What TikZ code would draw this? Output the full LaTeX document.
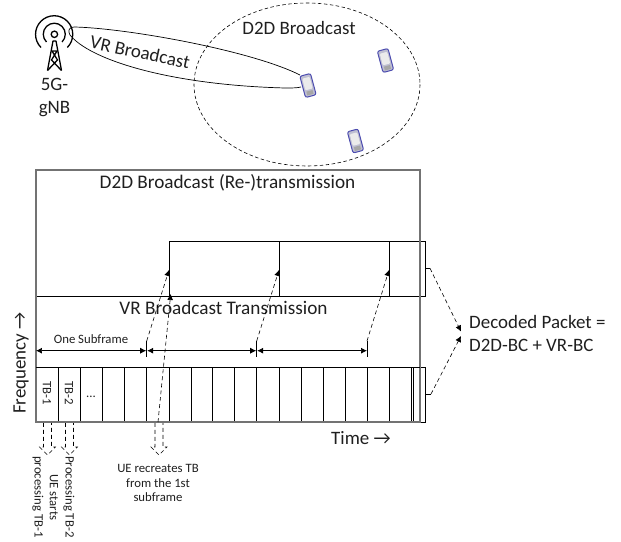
\documentclass[tikz,border=0pt]{standalone}
\usepackage{fontspec}
\setmainfont{Carlito}
\usetikzlibrary{arrows.meta}
\tikzset{
  lbl/.style={inner sep=0pt,align=center,text=black!88},
  big/.style={lbl,font=\fontsize{19}{23}\selectfont},
  wide/.style={lbl,font=\fontsize{19.3}{23}\selectfont},
  small/.style={lbl,font=\fontsize{12.8}{15}\selectfont},
  dashline/.style={draw=black,line width=0.6pt,dash pattern=on 4pt off 3pt},
  dasharrow/.style={dashline,-{Latex[length=6pt,width=6pt]}},
  span/.style={draw=black,line width=0.7pt,{Latex[length=6pt,width=6pt]}-{Latex[length=6pt,width=6pt]}},
  grayframe/.style={draw=black!55,line width=1.2pt},
  thin line/.style={draw=black,line width=0.7pt},
  hollow/.style={draw=black,line width=0.6pt,dash pattern=on 4pt off 3pt,line join=miter},
  phone/.pic={
    \begin{scope}[rotate=15]
      \draw[draw=blue!55!black!70,fill=blue!30!black!25,line width=1pt,rounded corners=2pt] (-5.5,-11) rectangle (5.5,11);
      \fill[black!8,rounded corners=1pt] (-3.8,-8) rectangle (3.8,4);
      \fill[black!35] (-3.2,5.5) rectangle (3.2,9.5);
    \end{scope}
  },
}
\begin{document}
\begin{tikzpicture}[x=1bp,y=-1bp]
\useasboundingbox (0,0) rectangle (621,542);
% tower
\begin{scope}[line width=1.3pt,draw=black]
  \draw (54.4,34.3) circle (3.2);
  \draw (46.5,42) arc (135:405:11);
  \draw (41,47.5) arc (135:405:18.6);
  \draw[line join=round] (47.5,70.5) -- (53,41) -- (56,41) -- (61.5,70.5);
  \draw (47.5,70.5) -- (57.5,60) -- (52,51) -- (57,51) -- (51.5,60) -- (61.5,70.5);
\end{scope}
\node[big] (gnbtxt) at (54.5,97.5) {5G-\\gNB};
% beam
\coordinate (beamA) at (300,75);
\coordinate (beamB) at (301,87);
\draw[thin line] (beamA) .. controls (250,50) and (125,28) .. (74,27) .. controls (69,27) and (67.5,31) .. (70,35) .. controls (90,60) and (170,85) .. (285,88) .. controls (292,88) and (297,88) .. (beamB);
\node[big,rotate=-12] (vrb) at (140,52) {VR Broadcast};
% D2D zone
\draw[black,line width=0.6pt,dash pattern=on 3.5pt off 2.5pt] (307,84.5) ellipse [x radius=113,y radius=81.5];
\node[big] (d2db) at (299,28) {D2D Broadcast};
\path (308,85.5) pic {phone};
\path (385.5,60.5) pic {phone};
\path (355.5,141) pic {phone};
% cells lower row
\foreach \xa/\xb in {36/58,58/80,80/102.5,102.5/124.5,124.5/146.7,146.7/169,169/191,191/212.5,212.5/234.7,234.7/256.7,256.7/279,279/301,301/323,323/345,345/367.7,367.7/389.7,389.7/411.7,413/420,420/425}{
  \draw[thin line] (\xa,367) rectangle (\xb,422);
}
\draw[thin line] (411.7,367) -- (411.7,422);
% upper row
\foreach \xa/\xb in {169/279.3,279.3/389.7,389.7/420,420/425}{
  \draw[thin line] (\xa,241) rectangle (\xb,296.3);
}
\draw[thin line] (36,296.3) -- (169,296.3);
% frame
\draw[grayframe] (36,170) rectangle (420,422);
\draw[thin line] (36,367) -- (420,367);
\node[wide] (t1) at (227.5,183) {D2D Broadcast (Re-)transmission};
\node[wide] (t2) at (223.5,308) {VR Broadcast Transmission};
\node[small] (sf) at (91,339) {One Subframe};
% spans
\coordinate (s0) at (36,350.7);
\coordinate (s1l) at (146.2,350.7);
\coordinate (s1r) at (147.2,350.7);
\coordinate (s2l) at (256.2,350.7);
\coordinate (s2r) at (257.2,350.7);
\coordinate (s3) at (367,350.7);
\draw[span] (s0) -- (s1l);
\draw[span] (s1r) -- (s2l);
\draw[span] (s2r) -- (s3);
\coordinate (d1s) at (146.7,341);
\coordinate (d1e) at (169,270);
\coordinate (d2s) at (256.7,341);
\coordinate (d2e) at (279,270);
\coordinate (d3s) at (367,341);
\coordinate (d3e) at (389,270);
\draw[thin line] (146.7,341) -- (146.7,357);
\draw[thin line] (256.7,341) -- (256.7,357);
\draw[thin line] (367,341) -- (367,357);
\draw[dasharrow] (d1s) -- (d1e);
\draw[dasharrow] (d2s) -- (d2e);
\draw[dasharrow] (d3s) -- (d3e);
\coordinate (d4s) at (158,422);
\coordinate (d4e) at (170.7,294);
\draw[dasharrow] (d4s) -- (d4e);
% cell labels
\node[small,rotate=-90] (tb1) at (47,393) {TB-1};
\node[small,rotate=-90] (tb2) at (69,393) {TB-2};
\node[small] (dots) at (91,397) {...};
% hollow dashed arrows
\foreach \c in {47.5,69.5,159}{
  \draw[hollow] (\c-4,423) -- (\c-4,447) -- (\c-8,447) -- (\c,455) -- (\c+8,447) -- (\c+4,447) -- (\c+4,423);
}
\node[small,rotate=-90,anchor=west] (p1) at (38,456) {processing TB-1};
\node[small,rotate=-90,anchor=west] (p2) at (54,474) {UE starts};
\node[small,rotate=-90,anchor=west] (p3) at (69,456) {Processing TB-2};
\node[small] (ue) at (158,483) {UE recreates TB\\from the 1st\\subframe};
\node[big,rotate=90,anchor=west] (freq) at (21,414) {Frequency →};
\node[big,anchor=west] (time) at (331,438) {Time →};
% decoded
\node[big,anchor=west,align=left] (dec) at (469,333.5) {Decoded Packet =\\D2D-BC + VR-BC};
\coordinate (u0) at (425,268.3);
\coordinate (u1) at (430,268.3);
\coordinate (l0) at (425,394);
\coordinate (l1) at (431,394);
\coordinate (decU) at (461,331.5);
\coordinate (decL) at (461,336);
\draw[thin line] (u0) -- (u1);
\draw[thin line] (l0) -- (l1);
\draw[dasharrow] (u1) -- (decU);
\draw[dasharrow] (l1) -- (decL);
\end{tikzpicture}
\end{document}
